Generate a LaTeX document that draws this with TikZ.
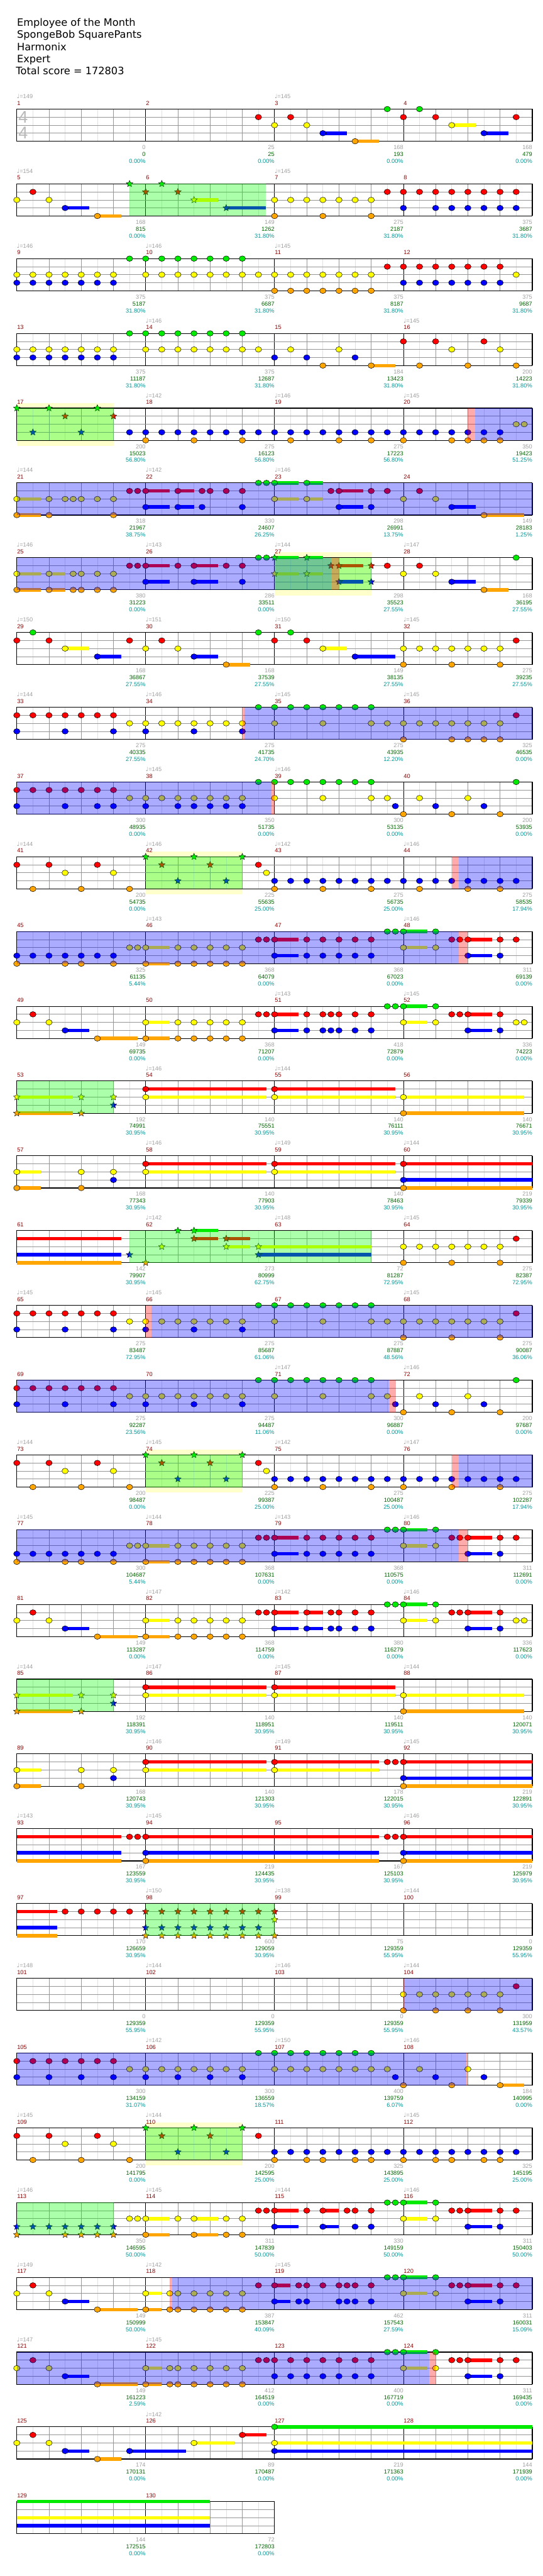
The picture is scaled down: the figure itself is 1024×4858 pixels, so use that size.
\documentclass[tikz,border=0pt]{standalone}
\usepackage{fontspec}
\setmainfont{Liberation Sans}
\newfontfamily\dejavu{DejaVu Sans}
\usetikzlibrary{shapes.geometric}
\definecolor{L0}{RGB}{0,235,0}
\definecolor{L1}{RGB}{255,0,0}
\definecolor{L2}{RGB}{255,255,0}
\definecolor{L3}{RGB}{0,0,255}
\definecolor{L4}{RGB}{255,165,0}
\definecolor{OvB}{RGB}{0,0,255}
\definecolor{OvG}{RGB}{0,255,0}
\definecolor{OvR}{RGB}{255,0,0}
\definecolor{YBox}{RGB}{255,255,204}
\definecolor{GLight}{RGB}{225,225,225}
\definecolor{GMid}{RGB}{150,150,150}
\definecolor{cGray}{RGB}{160,160,160}
\definecolor{cGreen}{RGB}{0,100,0}
\definecolor{cTeal}{RGB}{0,150,150}
\definecolor{cMeas}{RGB}{140,0,0}
\definecolor{cTempo}{RGB}{160,160,160}
\definecolor{cTS}{RGB}{185,185,185}
\tikzset{
 lbl/.style={anchor=base east,inner sep=0pt,font=\fontsize{11}{12}\selectfont},
 mlbl/.style={anchor=base west,inner sep=0pt,font=\fontsize{11}{12}\selectfont,text=cMeas},
 tlbl/.style={anchor=base west,inner sep=0pt,font=\fontsize{11}{12}\selectfont,text=cTempo},
 starnote/.style={star,star points=5,star point ratio=2.2,minimum size=13pt,inner sep=0pt,draw=black,line width=0.5pt},
 notestyle/.style={draw=black,line width=0.6pt},
 titletext/.style={anchor=base west,inner sep=0pt,font=\dejavu\fontsize{19.2}{22}\selectfont}
}
\newcommand\nts[2]{\foreach \ee in {#2}{\filldraw[notestyle,fill=L#1] (\ee,#1) ellipse [x radius=6pt,y radius=5.2pt];}}
\newcommand\sts[2]{\foreach \ee in {#2}{\node[starnote,fill=L#1] at (\ee,#1) {};}}
\newcommand\tls[2]{\foreach \ee/\tlen in {#2}{\draw[L#1,line width=6.5pt] (\ee,#1) -- ({\ee+\tlen},#1);}}
\newcommand\blu[2]{\fill[OvB,opacity=0.33] (#1,0) rectangle (#2,4);}
\newcommand\grn[2]{\fill[OvG,opacity=0.33] (#1,0) rectangle (#2,4);}
\newcommand\pnk[2]{\fill[OvR,opacity=0.33] (#1,0) rectangle (#2,4);}
\newcommand\ylw[2]{\fill[YBox] (#1,-0.66) rectangle (#2,4.68);}
\newcommand\staffgrid[1]{%
 \pgfmathtruncatemacro\gE{8*#1}%
 \foreach \gi in {1,3,...,\gE}{\draw[GLight,line width=0.9pt] (\gi,0) -- (\gi,4);}
 \foreach \gi in {2,4,...,\gE}{\draw[GMid,line width=0.9pt] (\gi,0) -- (\gi,4);}
 \foreach \gi in {8,16,...,\gE}{\draw[black,line width=0.9pt] (\gi,0) -- (\gi,4);}
 \foreach \gl in {1,2,3}{\draw[GMid,line width=0.9pt] (0,\gl) -- (\gE,\gl);}
 \draw[black,line width=1.3pt] (0,0) rectangle (\gE,4);}
\newcommand\labs[1]{\foreach \lJ/\lA/\lB/\lC in {#1}{%
 \pgfmathsetmacro\lX{8*\lJ+8}%
 \node[lbl,text=cGray,yshift=-76pt] at (\lX,0) {\lA};
 \node[lbl,text=cGreen,yshift=-89pt] at (\lX,0) {\lB};
 \node[lbl,text=cTeal,yshift=-102pt] at (\lX,0) {\lC\%};}}
\newcommand\tempi[1]{\foreach \lJ/\lT in {#1}{\pgfmathsetmacro\lX{8*\lJ}\node[tlbl,yshift=20pt] at (\lX,0) {{\dejavu\symbol{"2669}}=\lT};}}
\newcommand\mnum[2]{\foreach \lJ in {0,...,#2}{\pgfmathtruncatemacro\lN{#1+\lJ}\pgfmathsetmacro\lX{8*\lJ}\node[mlbl,yshift=7.5pt,xshift=0.5pt] at (\lX,0) {\lN};}}
\newenvironment{crow}[1]{\begin{scope}[shift={(31.7,{-(205.7+141*#1)})},x=30.4pt,y=-15.17pt]}{\end{scope}}
% shared patterns
\newcommand\patA{%
 \nts{1}{0,2,5,15}\sts{1}{9,12}
 \nts{2}{3,6}
 \sts{0}{8,11,14}\sts{3}{10,13}
 \nts{3}{16,...,31}}
\newcommand\patB{%
 \tls{0}{24/1.5}\tls{1}{16/1.5,28/1.5}\tls{2}{8/1.5,24/1.5}\tls{3}{16/1.5,28/1.5}\tls{4}{8/1.5}
 \nts{0}{23,23.5,24,26}
 \nts{1}{15,15.5,16,18,19,20,21,22,27,27.5,28,30,31}
 \nts{2}{7,7.5,8,10,11,12,13,14,24,26}
 \nts{3}{0,...,6}\nts{3}{16,18,19,20,21,22,28,30}
 \nts{4}{0,3,4,6,8,10,11,12,13,14}}
\newcommand\patC{%
 \tls{1}{8/7.5,16/7.5}\tls{2}{0/3.5,8/7.5,16/7.5,24/7.5}\tls{4}{0/3.5,24/7.5}
 \sts{2}{0,4,6}\sts{4}{0,4}\sts{3}{6}
 \nts{1}{8,16}\nts{2}{8,16,24}\nts{4}{24}}
\newcommand\patD{%
 \nts{0}{15,...,22}
 \nts{1}{0,...,6}
 \nts{2}{7,...,14}\nts{2}{16,19,22}}
\begin{document}
\begin{tikzpicture}[x=1pt,y=1pt]
\useasboundingbox (0,0) rectangle (1024,-4858);
\fill[white] (0,0) rectangle (1024,-4858);
\node[titletext] (t1) at (32,-49) {Employee of the Month};
\node[titletext] (t2) at (32,-72) {SpongeBob SquarePants};
\node[titletext] (t3) at (32,-95) {Harmonix};
\node[titletext] (t4) at (32,-118) {Expert};
\node[titletext] (t5) at (30,-141) {Total score = 172803};

% row 0
\begin{crow}{0}
\staffgrid{4}
\node[anchor=base west,inner sep=0pt,text=cTS,font=\fontsize{32}{32}\selectfont,xshift=3pt,yshift=-26.3pt] (ts1) at (0,0) {4};
\node[anchor=base west,inner sep=0pt,text=cTS,font=\fontsize{32}{32}\selectfont,xshift=3pt,yshift=-56.3pt] (ts2) at (0,0) {4};
\tls{2}{27/1.5}\tls{3}{19/1.5,29/1.5}\tls{4}{21/1.5}
\nts{0}{23,25}\nts{1}{15,17,24,26,31}\nts{2}{16,18,27}\nts{3}{19,29}\nts{4}{21}
\mnum{1}{3}\tempi{0/149,2/145}
\labs{0/0/0/0.00,1/25/25/0.00,2/168/193/0.00,3/168/479/0.00}
\end{crow}

% row 1
\begin{crow}{1}
\staffgrid{4}
\tls{2}{11/1.5}\tls{3}{3/1.5,13/2.45}\tls{4}{5/1.5}
\nts{1}{1}\nts{1}{23,...,31}
\nts{2}{0,2}\nts{2}{16,...,22}
\nts{3}{3,24,26,27,28,29,30,31}
\nts{4}{5,16,19,22}
\sts{0}{7,9}\sts{1}{8,10}\sts{2}{11}\sts{3}{13}
\grn{7}{15.45}
\mnum{5}{3}\tempi{0/154,2/145}
\labs{0/168/815/0.00,1/149/1262/31.80,2/275/2187/31.80,3/375/3687/31.80}
\end{crow}

% row 2
\begin{crow}{2}
\staffgrid{4}
\nts{0}{7,...,14}
\nts{1}{23,...,30}
\nts{2}{0,...,6}\nts{2}{8,...,22}\nts{2}{31}
\nts{3}{0,...,6}\nts{3}{24,...,30}
\nts{4}{16,...,22}
\mnum{9}{3}\tempi{0/146,1/146,2/145}
\labs{0/375/5187/31.80,1/375/6687/31.80,2/375/8187/31.80,3/375/9687/31.80}
\end{crow}

% row 3
\begin{crow}{3}
\staffgrid{4}
\tls{4}{22/1.5}
\nts{0}{7,...,14}
\nts{1}{24,26,29}
\nts{2}{0,...,6}\nts{2}{8,...,15}\nts{2}{17,20,27,30}
\nts{3}{0,...,6}\nts{3}{16,18,21}
\nts{4}{19,22,25,28,31}
\mnum{13}{3}\tempi{1/146,3/145}
\labs{0/375/11187/31.80,1/375/12687/31.80,2/184/13423/31.80,3/200/14223/31.80}
\end{crow}

% row 4
\begin{crow}{4}
\ylw{0}{6}\staffgrid{4}
\nts{2}{31,31.5}\nts{3}{7,...,30}\nts{4}{8,11,14,17,20,22,24,27,28,29,30}
\sts{0}{0,2,5}\sts{1}{3,6}\sts{3}{1,4}
\grn{0}{6}\pnk{28}{28.45}\blu{28.45}{32}
\mnum{17}{3}\tempi{1/142,2/146,3/145}
\labs{0/200/15023/56.80,1/275/16123/56.80,2/275/17223/56.80,3/350/19423/51.25}
\end{crow}

% row 5
\begin{crow}{5}
\staffgrid{4}
\tls{0}{16/1.5,18/1}\tls{1}{8/1.5,10/1,20/1.5}\tls{2}{0/1.5,16/1.5,18/1}
\tls{3}{8/1.5,10/1,20/1.5,27/1.5}\tls{4}{0/1.5,29/2.5}
\nts{0}{15,15.5,16,18}
\nts{1}{7,7.5,8,10,11.5,12,13,14,19.5,20,22,23,25}
\nts{2}{0,2,3,3.5,4,5,6,16,18,24,26}
\nts{3}{8,10,11.5,14,20,22,27}
\nts{4}{0,2,6,29}
\blu{0}{32}
\mnum{21}{3}\tempi{0/144,1/142,2/146}
\labs{0/318/21967/38.75,1/330/24607/26.25,2/298/26991/13.75,3/149/28183/1.25}
\end{crow}

% row 6
\begin{crow}{6}
\ylw{16}{22}\staffgrid{4}
\tls{0}{16/1.5,18/1}\tls{1}{8/1.5,11/1.5,20/1.5}\tls{2}{0/1.5,2/1,16/1.5,18/1}
\tls{3}{8/1.5,11/1.5,20/1.5,27/1.5}\tls{4}{0/1.5,2/1,29/1.5}
\nts{0}{15,15.5,31}\sts{0}{16,18}
\nts{1}{7,7.5,8,10,11,13,14,23,25}\sts{1}{19.5,20,22}
\nts{2}{0,2,3.5,4,5,6,24,26}\sts{2}{16,18}
\nts{3}{8,11,14,27}\sts{3}{20,22}
\nts{4}{0,2,3.5,4,5,6,29}
\blu{0}{19.5}\grn{16}{22}\pnk{19.5}{20}
\mnum{25}{3}\tempi{0/146,1/143,2/144,3/147}
\labs{0/380/31223/0.00,1/286/33511/0.00,2/298/35523/27.55,3/168/36195/27.55}
\end{crow}

% row 7
\begin{crow}{7}
\staffgrid{4}
\tls{2}{3/1.5,19/1.5}\tls{3}{5/1.5,11/1.5,21/2.5}\tls{4}{13/1.5}
\nts{0}{1,15,17}
\nts{1}{0,2,7,9,16,18,31}
\nts{2}{3,8,10,19}\nts{2}{24,...,30}
\nts{3}{5,11,21}
\nts{4}{13,24,27,30}
\mnum{29}{3}\tempi{0/150,1/151,2/150,3/145}
\labs{0/168/36867/27.55,1/168/37539/27.55,2/149/38135/27.55,3/275/39235/27.55}
\end{crow}

% row 8
\begin{crow}{8}
\staffgrid{4}
\patD \nts{1}{31}\nts{2}{23,...,30}
\nts{3}{0,3,6,8,11,14}
\nts{4}{24,27,28,29,30}
\pnk{14}{14.15}\blu{14.15}{32}
\mnum{33}{3}\tempi{0/144,1/146,2/145,3/145}
\labs{0/275/40335/27.55,1/275/41735/24.70,2/275/43935/12.20,3/325/46535/0.00}
\end{crow}

% row 9
\begin{crow}{9}
\staffgrid{4}
\patD \nts{0}{31}\nts{2}{23,25,28}
\nts{3}{0,3,5,6,8,10,11,12,13,14,23.5,26,29}
\nts{4}{24,27,30}
\blu{0}{15.8}\pnk{15.8}{16}
\mnum{37}{3}\tempi{1/145,2/146}
\labs{0/300/48935/0.00,1/350/51735/0.00,2/300/53135/0.00,3/200/53935/0.00}
\end{crow}

% row 10
\begin{crow}{10}
\ylw{8}{14}\staffgrid{4}
\patA \nts{2}{15.5}\nts{4}{1,4,7,16,19,22,25,28,30}
\grn{8}{14}\pnk{27}{27.45}\blu{27.45}{32}
\mnum{41}{3}\tempi{0/144,1/146,2/142,3/146}
\labs{0/200/54735/0.00,1/225/55635/25.00,2/275/56735/25.00,3/275/58535/17.94}
\end{crow}

% row 11
\begin{crow}{11}
\staffgrid{4}
\patB
\blu{0}{27.45}\pnk{27.45}{28}
\mnum{45}{3}\tempi{1/143,3/146}
\labs{0/325/61135/5.44,1/368/64079/0.00,2/368/67023/0.00,3/311/69139/0.00}
\end{crow}

% row 12
\begin{crow}{12}
\staffgrid{4}
\tls{0}{24/1.5}\tls{1}{16/1.5,28/1.5}\tls{2}{8/1.5,24/1.5}\tls{3}{3/1.5,16/1.5,28/1.5}\tls{4}{5/2.5,8/1.5}
\nts{0}{23,23.5,24,26}
\nts{1}{1,15,15.5,16,18,19,19.5,20,21,22,27,27.5,28,30}
\nts{2}{0,2,8,10,11,12,13,14,24,26,31,31.5}
\nts{3}{3,16,18,19,19.5,20,21,22,28,30}
\nts{4}{5,8,10,11,12,13,14}
\mnum{49}{3}\tempi{2/143,3/145}
\labs{0/149/69735/0.00,1/368/71207/0.00,2/418/72879/0.00,3/336/74223/0.00}
\end{crow}

% row 13
\begin{crow}{13}
\staffgrid{4}
\patC
\grn{0}{6}
\mnum{53}{3}\tempi{1/146,2/144}
\labs{0/192/74991/30.95,1/140/75551/30.95,2/140/76111/30.95,3/140/76671/30.95}
\end{crow}

% row 14
\begin{crow}{14}
\staffgrid{4}
\tls{1}{8/7.5,16/7.5,24/8}\tls{2}{0/1.5,8/7.5,16/7.5}\tls{3}{24/8}\tls{4}{0/1.5,24/8}
\nts{1}{8,16,24}\nts{2}{0,4,6,8,16}\nts{3}{6,24}\nts{4}{0,4,24}
\mnum{57}{3}\tempi{1/146,2/149,3/144}
\labs{0/168/77343/30.95,1/140/77903/30.95,2/140/78463/30.95,3/219/79339/30.95}
\end{crow}

% row 15
\begin{crow}{15}
\staffgrid{4}
\tls{0}{11/1.5}\tls{1}{0/6.5,11/1.5,13/1.5}\tls{2}{13/1.5,15/7}\tls{3}{0/6.5,15/7}\tls{4}{0/6.5}
\sts{0}{10,11}\sts{1}{11,13}\sts{2}{9,13,15}\sts{3}{7,15}\sts{4}{8}
\nts{1}{31}\nts{2}{24,...,30}\nts{4}{24,27,30}
\grn{7}{22}
\mnum{61}{3}\tempi{1/142,2/148,3/145}
\labs{0/142/79907/30.95,1/273/80999/62.75,2/72/81287/72.95,3/275/82387/72.95}
\end{crow}

% row 16
\begin{crow}{16}
\staffgrid{4}
\patD \nts{1}{31}\nts{2}{23,...,30}
\nts{3}{0,3,6,8,11,14}
\nts{4}{24,27,30}
\pnk{8}{8.35}\blu{8.35}{32}
\mnum{65}{3}\tempi{0/145,1/145,3/145}
\labs{0/275/83487/72.95,1/275/85687/61.06,2/275/87887/48.56,3/275/90087/36.06}
\end{crow}

% row 17
\begin{crow}{17}
\staffgrid{4}
\patD \nts{0}{31}\nts{2}{23,25,28}
\nts{3}{0,3,6,8,11,14,23.5,26,29}
\nts{4}{24,27,30}
\blu{0}{23.1}\pnk{23.1}{23.55}
\mnum{69}{3}\tempi{2/147,3/146}
\labs{0/275/92287/23.56,1/275/94487/11.06,2/300/96887/0.00,3/200/97687/0.00}
\end{crow}

% row 18
\begin{crow}{18}
\ylw{8}{14}\staffgrid{4}
\patA \nts{2}{15.5}\nts{4}{1,4,7,16,19,22,24,27,30}
\grn{8}{14}\pnk{27}{27.45}\blu{27.45}{32}
\mnum{73}{3}\tempi{0/144,1/145,2/142,3/147}
\labs{0/200/98487/0.00,1/225/99387/25.00,2/275/100487/25.00,3/275/102287/17.94}
\end{crow}

% row 19
\begin{crow}{19}
\staffgrid{4}
\patB
\blu{0}{27.45}\pnk{27.45}{28}
\mnum{77}{3}\tempi{0/145,1/144,2/143,3/146}
\labs{0/300/104687/5.44,1/368/107631/0.00,2/368/110575/0.00,3/311/112691/0.00}
\end{crow}

% row 20
\begin{crow}{20}
\staffgrid{4}
\tls{0}{24/1.5}\tls{1}{16/1.5,18/1,28/1.5}\tls{2}{8/1.5,24/1.5}\tls{3}{3/1.5,16/1.5,18/1,28/1.5}\tls{4}{5/2.5,8/1.5}
\nts{0}{23,23.5,24,26}
\nts{1}{1,15,15.5,16,18,19.5,20,21,22,27,27.5,28,30}
\nts{2}{0,2,8,10,11,12,13,14,24,26,31,31.5}
\nts{3}{3,16,18,19.5,20,21,22,28,30}
\nts{4}{5,8,10,11,12,13,14}
\mnum{81}{3}\tempi{1/147,2/142,3/146}
\labs{0/149/113287/0.00,1/368/114759/0.00,2/380/116279/0.00,3/336/117623/0.00}
\end{crow}

% row 21
\begin{crow}{21}
\staffgrid{4}
\patC
\grn{0}{6}
\mnum{85}{3}\tempi{0/144,1/147,2/145,3/144}
\labs{0/192/118391/30.95,1/140/118951/30.95,2/140/119511/30.95,3/140/120071/30.95}
\end{crow}

% row 22
\begin{crow}{22}
\staffgrid{4}
\tls{1}{8/7.5,16/6.5,24/8}\tls{2}{0/1.5,8/7.5,16/6.5}\tls{3}{24/8}\tls{4}{0/1.5,24/8}
\nts{1}{8,16,23,23.5,24}\nts{2}{0,4,6,8,16}\nts{3}{6,24}\nts{4}{0,4,24}
\mnum{89}{3}\tempi{1/146,2/149,3/145}
\labs{0/168/120743/30.95,1/140/121303/30.95,2/178/122015/30.95,3/219/122891/30.95}
\end{crow}

% row 23
\begin{crow}{23}
\staffgrid{4}
\tls{1}{0/6.5,8/14.5,24/8}\tls{3}{0/6.5,8/14.5,24/8}\tls{4}{0/6.5,8/14.5,24/8}
\nts{1}{7,7.5,8,23,23.5,24}\nts{3}{8,24}\nts{4}{8,24}
\mnum{93}{3}\tempi{0/143,1/145,3/146}
\labs{0/167/123559/30.95,1/219/124435/30.95,2/167/125103/30.95,3/219/125979/30.95}
\end{crow}

% row 24
\begin{crow}{24}
\staffgrid{4}
\tls{1}{0/2.5}\tls{3}{0/2.5}\tls{4}{0/2.5}
\nts{1}{3,4,5,6,7}
\sts{1}{8,...,16}\sts{3}{8,...,15}\sts{4}{8,...,16}\sts{2}{16}
\grn{8}{16}
\mnum{97}{3}\tempi{1/150,2/138,3/144}
\labs{0/170/126659/30.95,1/600/129059/30.95,2/75/129359/55.95,3/0/129359/55.95}
\end{crow}

% row 25
\begin{crow}{25}
\staffgrid{4}
\nts{1}{31}\nts{2}{24,...,30}\nts{4}{24,26,28,30}
\pnk{24}{24.06}\blu{24.06}{32}
\mnum{101}{3}\tempi{0/148,1/144,2/146,3/144}
\labs{0/0/129359/55.95,1/0/129359/55.95,2/0/129359/55.95,3/300/131959/43.57}
\end{crow}

% row 26
\begin{crow}{26}
\staffgrid{4}
\tls{4}{30/1.5}
\nts{0}{15,...,22}
\nts{1}{0,...,6}
\nts{2}{7,...,14}\nts{2}{16,...,23}\nts{2}{25,28}
\nts{3}{0,2,4,6,8,10,12,14,23.5,26,29}
\nts{4}{24,27,30}
\blu{0}{27.9}\pnk{27.9}{28}
\mnum{105}{3}\tempi{1/142,2/150,3/146}
\labs{0/300/134159/31.07,1/300/136559/18.57,2/400/139759/6.07,3/184/140995/0.00}
\end{crow}

% row 27
\begin{crow}{27}
\ylw{8}{14}\staffgrid{4}
\patA \nts{4}{1,4,7,16,18,19,21,22,24,26,27,29,30}
\grn{8}{14}
\mnum{109}{3}\tempi{0/145,1/144,3/145}
\labs{0/200/141795/0.00,1/200/142595/25.00,2/325/143895/25.00,3/325/145195/25.00}
\end{crow}

% row 28
\begin{crow}{28}
\staffgrid{4}
\tls{0}{24/1.5}\tls{1}{16/1.5,19/1,28/1.5}\tls{2}{8/1.5,11/1.5,24/1.5}\tls{3}{16/1.5,19/1,28/1.5}\tls{4}{8/1.5,11/1.5}
\sts{3}{0,...,6}\sts{4}{0,3,4,5,6}
\nts{0}{23,23.5,24,26}
\nts{1}{15,15.5,16,18,19,20.5,21,22,27,27.5,28,30,31}
\nts{2}{7,7.5,8,10,11,13,14,24,26}
\nts{3}{16,19,21,22,28,30}
\nts{4}{8,11,13,14}
\grn{0}{6}
\mnum{113}{3}\tempi{0/146,1/145,2/144,3/146}
\labs{0/350/146595/50.00,1/311/147839/50.00,2/330/149159/50.00,3/311/150403/50.00}
\end{crow}

% row 29
\begin{crow}{29}
\staffgrid{4}
\tls{0}{24/1.5}\tls{1}{16/1,28/1.5}\tls{2}{8/1,24/1.5}\tls{3}{3/1.5,16/1,28/1.5}\tls{4}{5/2.5,8/1}
\nts{0}{23,23.5,24,26}
\nts{1}{1,15,16,17.5,18,19,20,20.5,21,22,27,27.5,28,30,31}
\nts{2}{0,2,8,9.5,10,11,12,13,14,24,26}
\nts{3}{3,16,17.5,18,20,20.5,21,22,28,30}
\nts{4}{5,8,9.5,10,11,12,13,14}
\pnk{9.5}{9.65}\blu{9.65}{32}
\mnum{117}{3}\tempi{0/149,1/142,2/145}
\labs{0/149/150999/50.00,1/387/153847/40.09,2/462/157543/27.59,3/311/160031/15.09}
\end{crow}

% row 30
\begin{crow}{30}
\staffgrid{4}
\tls{0}{24/1.5}\tls{1}{28/1.5}\tls{2}{8/1,24/1.5}\tls{3}{3/1.5,28/1.5}\tls{4}{5/2.5,8/1}
\nts{0}{23,23.5,24,26}
\nts{1}{1,15,15.5,16,17,18,19,20,21,22,27,27.5,28,30,31}
\nts{2}{0,2,8,9.5,10,11,12,13,14,24,26}
\nts{3}{3,16,17,18,19,20,21,22,28,30}
\nts{4}{5,8,9.5,10,11,12,13,14}
\blu{0}{25.6}\pnk{25.6}{26}
\mnum{121}{3}\tempi{0/147,1/145}
\labs{0/149/161223/2.59,1/412/164519/0.00,2/400/167719/0.00,3/311/169435/0.00}
\end{crow}

% row 31
\begin{crow}{31}
\staffgrid{4}
\tls{0}{16/16}\tls{1}{14/1.5}\tls{2}{11/2.5,16/16}\tls{3}{3/1.5,7/3.5,16/16}\tls{4}{5/1.5}
\nts{0}{16}\nts{1}{1,14}\nts{2}{0,2,11,16}\nts{3}{3,7,16}\nts{4}{5}
\mnum{125}{3}\tempi{1/142}
\labs{0/174/170131/0.00,1/89/170487/0.00,2/219/171363/0.00,3/144/171939/0.00}
\end{crow}

% row 32
\begin{crow}{32}
\staffgrid{2}
\tls{0}{0/12}\tls{2}{0/12}\tls{3}{0/12}
\mnum{129}{1}
\labs{0/144/172515/0.00,1/72/172803/0.00}
\end{crow}
\end{tikzpicture}
\end{document}
